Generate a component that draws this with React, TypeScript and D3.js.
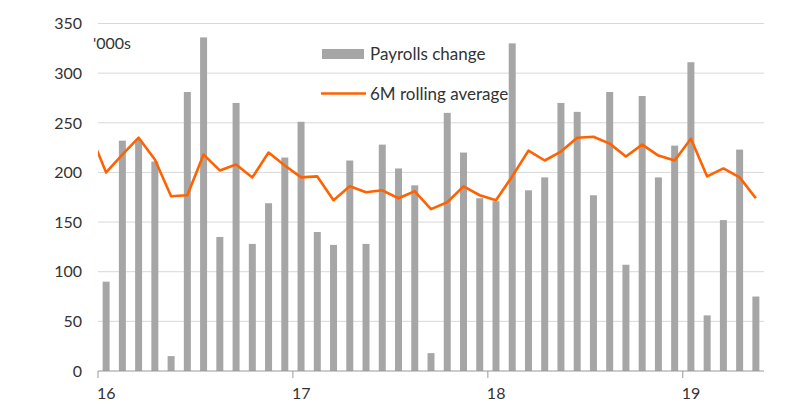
import React from 'react';
import * as d3 from 'd3';

const width = 800;
const height = 412;
const margin = { left: 98, right: 36, top: 23.5, bottom: 41 };

// monthly change in non-farm payrolls, Jan 2016 - May 2019 ('000s)
const payrolls = [
  90, 232, 233, 211, 15, 281, 336, 135, 270, 128, 169, 215,
  251, 140, 127, 212, 128, 228, 204, 187, 18, 260, 220, 174,
  171, 330, 182, 195, 270, 261, 177, 281, 107, 277, 195, 227,
  311, 56, 152, 223, 75,
];

// 6M rolling average, Dec 2015 - May 2019
const rollingAvg = [
  240,
  200, 218, 235, 213, 176, 177, 218, 202, 208, 195, 220, 207,
  195, 196, 172, 186, 180, 182, 174, 181, 163, 170, 186, 177,
  172, 196, 222, 212, 221, 235, 236, 229, 216, 228, 217, 212,
  234, 196, 204, 195, 174,
];

const yTicks = [0, 50, 100, 150, 200, 250, 300, 350];
const yearLabels = ['16', '17', '18', '19'];

const start = new Date(2016, 0, 1);
const barMonths = d3.timeMonths(start, new Date(2019, 5, 1));
const avgMonths = d3.timeMonths(new Date(2015, 11, 1), new Date(2019, 5, 1));
const yearStarts = yearLabels.map((_, i) => new Date(2016 + i, 0, 1));

const font = 'Lato, "Open Sans", sans-serif';
const grey = '#a6a6a6';
const orange = '#ff6200';

if (typeof document !== 'undefined') document.body.style.margin = '0';

export default function App() {
  const idx = (d: Date) => d3.timeMonth.count(start, d);
  const x = d3.scaleLinear()
    .domain([0, barMonths.length])
    .range([margin.left, width - margin.right]);
  const y = d3.scaleLinear()
    .domain([0, 350])
    .range([height - margin.bottom, margin.top]);
  const step = x(1) - x(0);
  const barWidth = step * 0.43;

  const line = d3.line<number>()
    .x((_, i) => x(idx(avgMonths[i]) + 0.5))
    .y(d => y(d));

  return (
    <svg width={width} height={height} style={{ display: 'block', background: '#fff' }}>
      <defs>
        <clipPath id="plot">
          <rect x={margin.left} y={0} width={width - margin.left - margin.right} height={height} />
        </clipPath>
      </defs>

      {yTicks.slice(1).map(t => (
        <line key={t} x1={margin.left} x2={width - margin.right} y1={y(t)} y2={y(t)}
          stroke="#d9d9d9" strokeWidth={1} />
      ))}
      {yTicks.map(t => (
        <text key={t} x={82} y={y(t)} dy="0.36em" textAnchor="end"
          fontFamily={font} fontSize={16} fill="#333">{t}</text>
      ))}

      <text x={93} y={43} dy="0.36em" fontFamily={font} fontSize={16} fill="#333">'000s</text>

      {payrolls.map((v, i) => (
        <rect key={i}
          x={x(idx(barMonths[i]) + 0.5) - barWidth / 2}
          y={y(v)}
          width={barWidth}
          height={y(0) - y(v)}
          fill={grey} />
      ))}

      <path d={line(rollingAvg) || ''} fill="none" stroke={orange} strokeWidth={2.6}
        strokeLinejoin="round" clipPath="url(#plot)" />

      <line x1={margin.left} x2={width - margin.right} y1={y(0)} y2={y(0)} stroke="#999" />
      {yearStarts.map((d, i) => (
        <g key={i} transform={`translate(${x(idx(d))},${y(0)})`}>
          <line y1={0} y2={7} stroke="#999" />
          <text x={-1} y={22} dy="0.36em" fontFamily={font} fontSize={16} fill="#333">
            {yearLabels[i]}
          </text>
        </g>
      ))}

      <g fontFamily={font} fontSize={17} fill="#333">
        <rect x={322} y={49} width={42} height={10} fill={grey} />
        <text x={370} y={54} dy="0.36em">Payrolls change</text>
        <line x1={321} x2={366} y1={93.5} y2={93.5} stroke={orange} strokeWidth={2.6} />
        <text x={370} y={94} dy="0.36em">6M rolling average</text>
      </g>
    </svg>
  );
}
